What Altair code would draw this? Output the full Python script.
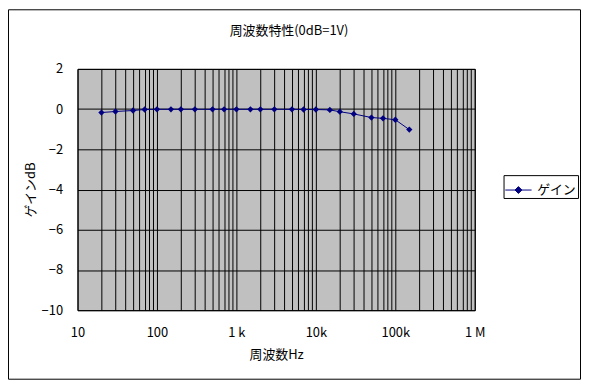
import altair as alt
import pandas as pd

# data
freq = [20, 30, 50, 70, 100, 150, 200, 300, 500, 700, 1000, 1500, 2000, 3000,
        5000, 7000, 10000, 15000, 20000, 30000, 50000, 70000, 100000, 150000]
gain = [-0.17, -0.12, -0.07, -0.02, -0.01, -0.01, -0.01, -0.01, -0.01, -0.01,
        -0.01, -0.01, -0.01, -0.01, -0.01, -0.02, -0.02, -0.04, -0.13, -0.24,
        -0.42, -0.46, -0.53, -1.02]
series = ["ゲイン"] * len(freq)

decades = [10, 100, 1000, 10000, 100000, 1000000]
decade_labels = ["10", "100", "1 k", "10k", "100k", "1 M"]
minor = [m * d for d in decades[:-1] for m in range(1, 10)] + [1000000]
y_ticks = [-10, -8, -6, -4, -2, 0, 2]
title_text = "周波数特性(0dB=1V)"

df = pd.DataFrame({"freq": freq, "gain": gain, "series": series})

FONT = "Noto Sans CJK JP"
FS = 13
label_expr = " : ".join(
    f"datum.value == {v} ? '{l}'" for v, l in zip(decades, decade_labels)
) + " : ''"

x_enc = alt.X(
    "freq:Q",
    scale=alt.Scale(type="log", domain=[10, 1000000], nice=False),
    axis=alt.Axis(
        values=minor, labelExpr=label_expr, title="周波数Hz", ticks=False,
        domain=False, grid=True, gridColor="black", gridOpacity=1, gridWidth=1,
        labelPadding=16, labelOverlap=False, labelFlush=False, labelBound=False,
        titlePadding=10,
    ),
)
y_enc = alt.Y(
    "gain:Q",
    scale=alt.Scale(domain=[-10, 2], nice=False, zero=False),
    axis=alt.Axis(
        values=y_ticks, title="ゲインdB", ticks=False, domain=False, grid=True,
        gridColor="black", gridOpacity=1, gridWidth=1, labelPadding=15,
        titlePadding=4,
    ),
)
color_enc = alt.Color(
    "series:N",
    scale=alt.Scale(domain=["ゲイン"], range=["#000080"]),
    legend=alt.Legend(
        title=None, orient="none", legendX=429, legendY=107,
        symbolType="M-1,0H1M0,-0.26L0.26,0L0,0.26L-0.26,0Z",
        symbolSize=700, symbolStrokeWidth=1, symbolFillColor="#000080",
        symbolStrokeColor="#000080", strokeColor="black", fillColor="white",
        padding=1, labelFont=FONT, labelFontSize=FS, labelColor="black",
        labelOffset=5,
    ),
)

line = alt.Chart(df).mark_line(strokeWidth=1).encode(x=x_enc, y=y_enc, color=color_enc)
points = alt.Chart(df).mark_point(shape="diamond", filled=True, size=40, opacity=1).encode(
    x="freq:Q", y="gain:Q", color=alt.Color("series:N", legend=None)
)
frame = alt.Chart(pd.DataFrame({"a": [0]})).mark_rect(
    filled=False, stroke="black", strokeWidth=1
).encode(
    x=alt.value(-69.5), x2=alt.value(506.5), y=alt.value(-59.5), y2=alt.value(312.5)
)
title = alt.Chart(pd.DataFrame({"t": [title_text]})).mark_text(
    font=FONT, fontSize=FS, color="black", align="center", baseline="middle"
).encode(text="t:N", x=alt.value(213), y=alt.value(-38))

chart = alt.layer(line, points, frame, title).properties(
    width=400, height=243,
    autosize=alt.AutoSizeParams(type="none"),
    padding={"left": 70, "top": 60, "right": 108, "bottom": 71},
    background="white",
).configure_view(
    fill="#C0C0C0", stroke="black", strokeWidth=1
).configure_axis(
    labelFont=FONT, labelFontSize=FS, labelColor="black",
    titleFont=FONT, titleFontSize=FS, titleFontWeight="normal", titleColor="black",
)

chart.save("out.html", embed_options={"renderer": "svg", "actions": False})
